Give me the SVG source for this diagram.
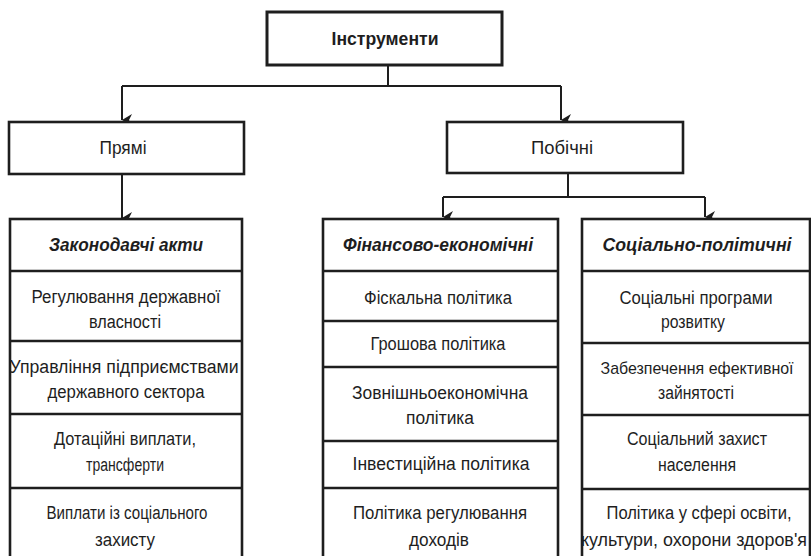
<svg xmlns="http://www.w3.org/2000/svg" width="811" height="556" viewBox="0 0 811 556">
<defs>
<marker id="ah" markerUnits="userSpaceOnUse" markerWidth="12" markerHeight="12" viewBox="0 0 12 12" refX="6" refY="11" orient="auto-start-reverse">
<path d="M0,1 L6,11 L12,1 L6,4 Z" fill="#1e1e1e"/>
</marker>
<style>
.box{fill:#fff;stroke:#1e1e1e;stroke-width:2.6}
.sep{stroke:#1e1e1e;stroke-width:2.6;fill:none}
.con{stroke:#1e1e1e;stroke-width:2;fill:none}
text{font-family:"Liberation Sans",Arial,sans-serif;font-size:18px;fill:#1e1e1e;text-anchor:middle}
.b{font-weight:bold}
.bi{font-weight:bold;font-style:italic}
</style>
</defs>
<rect width="811" height="556" fill="#fff"/>
<g id="connectors">
<path class="con" d="M388,65 V86 M122,86 H561"/>
<path class="con" d="M122,86 V120" marker-end="url(#ah)"/>
<path class="con" d="M561,86 V120" marker-end="url(#ah)"/>
<path class="con" d="M122,174 V218" marker-end="url(#ah)"/>
<path class="con" d="M568,173 V197 M443,197 H705"/>
<path class="con" d="M443,197 V217" marker-end="url(#ah)"/>
<path class="con" d="M705,197 V217" marker-end="url(#ah)"/>
</g>
<g id="instrumenty">
<rect class="box" x="267" y="12" width="235" height="53" style="stroke-width:3"/>
<text class="b" x="385" y="45" textLength="107" lengthAdjust="spacingAndGlyphs">Інструменти</text>
</g>
<g id="priami">
<rect class="box" x="9" y="122" width="235" height="52"/>
<text x="123" y="154" textLength="47" lengthAdjust="spacingAndGlyphs">Прямі</text>
</g>
<g id="pobichni">
<rect class="box" x="447" y="122" width="236" height="51"/>
<text x="562" y="154" textLength="62" lengthAdjust="spacingAndGlyphs">Побічні</text>
</g>
<g id="zakonodavchi">
<rect class="box" x="10" y="219" width="232" height="345"/>
<path class="sep" d="M10,271 H242 M10,341 H242 M10,414 H242 M10,488 H242"/>
<text class="bi" x="126" y="251" textLength="154" lengthAdjust="spacingAndGlyphs">Законодавчі акти</text>
<text x="126" y="303" textLength="189" lengthAdjust="spacingAndGlyphs">Регулювання державної</text>
<text x="125" y="328" textLength="72" lengthAdjust="spacingAndGlyphs">власності</text>
<text x="124" y="373" textLength="229" lengthAdjust="spacingAndGlyphs">Управління підприємствами</text>
<text x="126" y="398" textLength="157" lengthAdjust="spacingAndGlyphs">державного сектора</text>
<text x="125" y="445" textLength="142" lengthAdjust="spacingAndGlyphs">Дотаційні виплати,</text>
<text x="125" y="471" textLength="78" lengthAdjust="spacingAndGlyphs">трансферти</text>
<text x="127" y="519" textLength="161" lengthAdjust="spacingAndGlyphs">Виплати із соціального</text>
<text x="125" y="546" textLength="60" lengthAdjust="spacingAndGlyphs">захисту</text>
</g>
<g id="finansovo">
<rect class="box" x="323" y="219" width="235" height="345"/>
<path class="sep" d="M323,271 H558 M323,321 H558 M323,367 H558 M323,441 H558 M323,488 H558"/>
<text class="bi" x="438" y="251" textLength="190" lengthAdjust="spacingAndGlyphs">Фінансово-економічні</text>
<text x="438" y="304" textLength="148" lengthAdjust="spacingAndGlyphs">Фіскальна політика</text>
<text x="438" y="350" textLength="135" lengthAdjust="spacingAndGlyphs">Грошова політика</text>
<text x="440" y="399" textLength="176" lengthAdjust="spacingAndGlyphs">Зовнішньоекономічна</text>
<text x="440" y="424" textLength="68" lengthAdjust="spacingAndGlyphs">політика</text>
<text x="441" y="470" textLength="177" lengthAdjust="spacingAndGlyphs">Інвестиційна політика</text>
<text x="440" y="519" textLength="174" lengthAdjust="spacingAndGlyphs">Політика регулювання</text>
<text x="439" y="546" textLength="60" lengthAdjust="spacingAndGlyphs">доходів</text>
</g>
<g id="sotsialno">
<rect class="box" x="582" y="219" width="228" height="345"/>
<path class="sep" d="M582,271 H810 M582,343 H810 M582,415 H810 M582,489 H810"/>
<text class="bi" x="697" y="251" textLength="189" lengthAdjust="spacingAndGlyphs">Соціально-політичні</text>
<text x="696" y="304" textLength="153" lengthAdjust="spacingAndGlyphs">Соціальні програми</text>
<text x="693" y="328" textLength="64" lengthAdjust="spacingAndGlyphs">розвитку</text>
<text x="697" y="374" style="font-size:17px" textLength="193" lengthAdjust="spacingAndGlyphs">Забезпечення ефективної</text>
<text x="696" y="399" textLength="76" lengthAdjust="spacingAndGlyphs">зайнятості</text>
<text x="697" y="445" textLength="140" lengthAdjust="spacingAndGlyphs">Соціальний захист</text>
<text x="697" y="471" textLength="78" lengthAdjust="spacingAndGlyphs">населення</text>
<text x="699" y="519" textLength="185" lengthAdjust="spacingAndGlyphs">Політика у сфері освіти,</text>
<text x="694" y="546" textLength="226" lengthAdjust="spacingAndGlyphs">культури, охорони здоров'я</text>
</g>
</svg>
